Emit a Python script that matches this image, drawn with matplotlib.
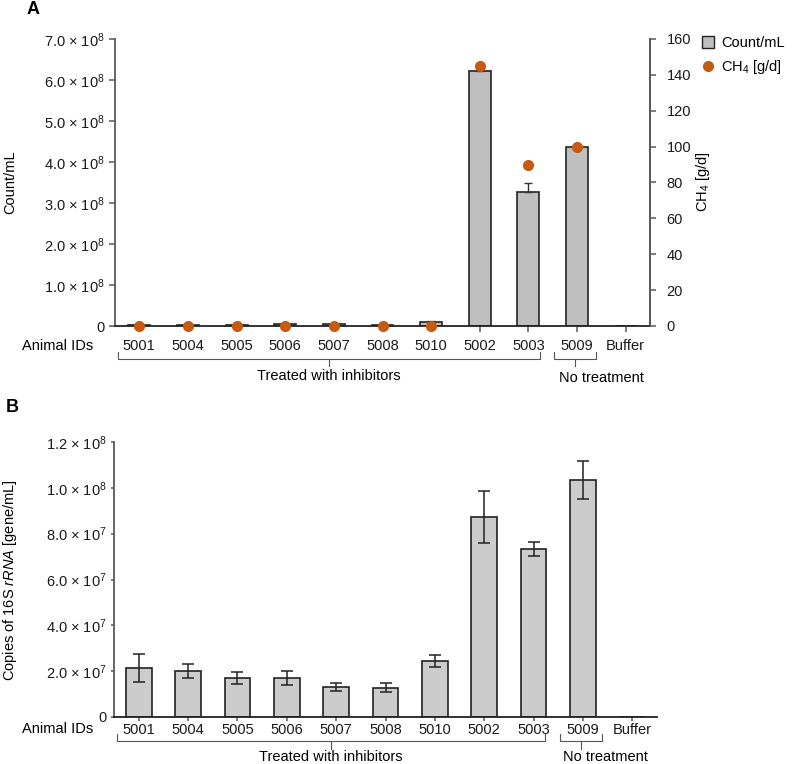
import numpy as np
import matplotlib
matplotlib.use("Agg")
import matplotlib.pyplot as plt
from matplotlib.lines import Line2D

plt.rcParams["font.family"] = ["Liberation Sans", "DejaVu Sans"]
plt.rcParams["mathtext.fontset"] = "custom"
plt.rcParams["mathtext.rm"] = "Liberation Sans"
plt.rcParams["mathtext.it"] = "Liberation Sans:italic"
plt.rcParams["font.size"] = 10.5

animal_ids = ["5001", "5004", "5005", "5006", "5007", "5008", "5010",
              "5002", "5003", "5009", "Buffer"]

# panel A: cell counts (count/mL) and methane (g/d)
count_ml = [0.03e8, 0.02e8, 0.03e8, 0.04e8, 0.04e8, 0.02e8, 0.10e8,
            6.22e8, 3.27e8, 4.37e8, 0.01e8]
count_err = [0.005e8, 0.005e8, 0.005e8, 0.005e8, 0.005e8, 0.005e8, 0.01e8,
             0.17e8, 0.22e8, 0.0, 0.0]
ch4 = [0, 0, 0, 0, 0, 0, 0, 145, 90, 100, np.nan]

# panel B: 16S rRNA copies (gene/mL)
copies = [2.14e7, 2.0e7, 1.7e7, 1.7e7, 1.31e7, 1.27e7, 2.45e7,
          8.73e7, 7.34e7, 10.35e7, 0.02e7]
copies_err = [0.6e7, 0.3e7, 0.27e7, 0.32e7, 0.18e7, 0.2e7, 0.27e7,
              1.13e7, 0.3e7, 0.83e7, 0.0]

a_ticks = [0, 1e8, 2e8, 3e8, 4e8, 5e8, 6e8, 7e8]
a_ticklabels = ["0"] + [r"%d.0 × 10$^8$" % i for i in range(1, 8)]
b_ticks = [0, 2e7, 4e7, 6e7, 8e7, 1e8, 1.2e8]
b_ticklabels = ["0", r"2.0 × 10$^7$", r"4.0 × 10$^7$", r"6.0 × 10$^7$",
                r"8.0 × 10$^7$", r"1.0 × 10$^8$", r"1.2 × 10$^8$"]

W, H = 796, 764
fig = plt.figure(figsize=(W / 100, H / 100), dpi=100)
x = np.arange(len(animal_ids))
spine_col = "#595959"
orange = "#c55a11"


def style(ax):
    ax.spines["top"].set_visible(False)
    for s in ["left", "right", "bottom"]:
        ax.spines[s].set_color(spine_col)
        ax.spines[s].set_linewidth(1.3)
    ax.spines["bottom"].set_color("#222222")
    ax.tick_params(axis="both", colors=spine_col, labelcolor="#1a1a1a",
                   length=4, width=1.1)
    ax.set_xlim(-0.5, len(animal_ids) - 0.5)
    ax.set_xticks(x)
    ax.set_xticklabels(animal_ids)
    ax.tick_params(axis="x", pad=5)


def bracket(ax, x0, x1, xc, yl, ye, yc):
    tr = ax.get_xaxis_transform()
    ax.plot([x0, x0, x1, x1], [ye, yl, yl, ye], color="#555555", lw=0.8,
            transform=tr, clip_on=False)
    ax.plot([xc, xc], [yl, yc], color="#555555", lw=0.8, transform=tr,
            clip_on=False)
    return tr


# ---------------- panel A ----------------
axA = fig.add_axes([115 / W, 1 - 326 / H, (650 - 115) / W, (326 - 39) / H])
axA.bar(x, count_ml, width=0.45, color="#bfbfbf", edgecolor="#222222",
        linewidth=1.2, zorder=2)
axA.errorbar(x, count_ml, yerr=[np.zeros(len(x)), count_err], fmt="none",
             ecolor="#333333", elinewidth=1.0, capsize=3, zorder=3)
axA.set_ylim(0, 7e8)
axA.set_yticks(a_ticks)
axA.set_yticklabels(a_ticklabels)
style(axA)
axA.spines["right"].set_visible(True)

axA2 = axA.twinx()
axA2.plot(x, ch4, "o", color=orange, markersize=7, zorder=4, clip_on=False)
axA2.set_ylim(0, 160)
axA2.set_yticks(range(0, 161, 20))
axA2.spines["top"].set_visible(False)
axA2.spines["left"].set_visible(False)
axA2.spines["bottom"].set_visible(False)
axA2.spines["right"].set_color(spine_col)
axA2.spines["right"].set_linewidth(1.3)
axA2.tick_params(axis="y", colors=spine_col, labelcolor="#1a1a1a", length=4,
                 width=1.1, pad=8)

fig.text(10 / W, 1 - 182 / H, "Count/mL", rotation=90, ha="center",
         va="center")
fig.text(703 / W, 1 - 182 / H, r"CH$_4$ [g/d]", rotation=90, ha="center",
         va="center")
fig.text(93 / W, 1 - 346 / H, "Animal IDs", ha="right", va="center")
fig.text(27 / W, 1 - 9 / H, "A", fontsize=13, fontweight="bold", ha="left",
         va="center")

hA = 326 - 39
fa = lambda py: (326 - py) / hA
tr = bracket(axA, -0.44, 8.24, 3.9, fa(359), fa(352), fa(366))
axA.text(3.9, fa(376), "Treated with inhibitors", transform=tr, ha="center",
         va="center")
bracket(axA, 8.53, 9.38, 8.96, fa(359), fa(352), fa(366))
axA.text(9.5, fa(378), "No treatment", transform=tr, ha="center",
         va="center")

handles = [Line2D([], [], marker="s", linestyle="none", markersize=8,
                  markerfacecolor="#bfbfbf", markeredgecolor="#222222"),
           Line2D([], [], marker="o", linestyle="none", markersize=7,
                  color=orange)]
fig.legend(handles, ["Count/mL", r"CH$_4$ [g/d]"], loc="upper left",
           bbox_to_anchor=(698 / W, 1 - 32 / H), frameon=False,
           handlelength=0.8, handletextpad=0.5, labelspacing=0.5,
           borderaxespad=0, borderpad=0.3, fontsize=10.5)

# ---------------- panel B ----------------
axB = fig.add_axes([114 / W, 1 - 717 / H, (657 - 114) / W, (717 - 442) / H])
axB.bar(x, copies, width=0.52, color="#cccccc", edgecolor="#222222",
        linewidth=1.2, zorder=2)
axB.errorbar(x[:-1], copies[:-1], yerr=copies_err[:-1], fmt="none",
             ecolor="#222222", elinewidth=1.1, capsize=4, capthick=1.1,
             zorder=3)
axB.set_ylim(0, 1.2e8)
axB.set_yticks(b_ticks)
axB.set_yticklabels(b_ticklabels)
style(axB)
axB.spines["right"].set_visible(False)
axB.tick_params(axis="y", length=2)
axB.tick_params(axis="x", length=3, pad=1)

fig.text(10 / W, 1 - 580 / H, r"Copies of 16S $\it{rRNA}$ [gene/mL]",
         rotation=90, ha="center", va="center")
fig.text(93 / W, 1 - 729 / H, "Animal IDs", ha="right", va="center")
fig.text(6 / W, 1 - 408 / H, "B", fontsize=13, fontweight="bold", ha="left",
         va="center")

hB = 717 - 442
fb = lambda py: (717 - py) / hB
tr = bracket(axB, -0.44, 8.24, 3.9, fb(741), fb(734), fb(749))
axB.text(3.9, fb(757), "Treated with inhibitors", transform=tr, ha="center",
         va="center")
bracket(axB, 8.53, 9.38, 8.96, fb(741), fb(734), fb(749))
axB.text(9.45, fb(757), "No treatment", transform=tr, ha="center",
         va="center")

fig.savefig("out.png", dpi=100)
